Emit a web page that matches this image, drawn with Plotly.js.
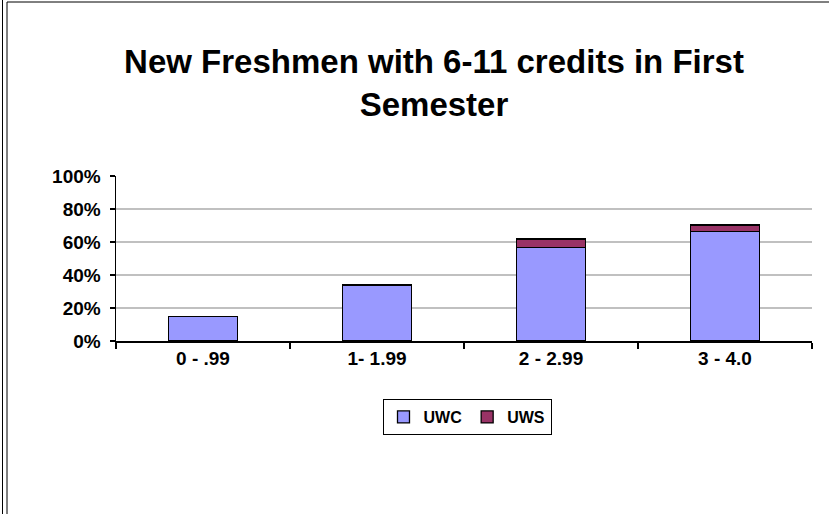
<!DOCTYPE html>
<html>
<head>
<meta charset="utf-8">
<script src="https://cdn.plot.ly/plotly-3.0.1.min.js"></script>
<style>html,body{margin:0;padding:0;background:#fff;}#chart{width:829px;height:514px;}</style>
</head>
<body>
<div id="chart"></div>
<script>
const categories = ["0 - .99", "1- 1.99", "2 - 2.99", "3 - 4.0"];
const uwc = [0.15, 0.34, 0.565, 0.662];
const uws = [null, null, 0.053, 0.041];
const yTickVals = [0, 0.2, 0.4, 0.6, 0.8, 1.0];
const yTickText = ["0%", "20%", "40%", "60%", "80%", "100%"];

const L = 116, R = 812, T = 176, B = 341;
function px(x){ return (x - L) / (R - L); }
function py(y){ return (B - y) / (B - T); }

const traces = [
  {type: 'bar', name: 'UWC', x: categories, y: uwc,
   marker: {color: '#9999ff', line: {color: '#000', width: 1.3}}},
  {type: 'bar', name: 'UWS', x: categories, y: uws,
   marker: {color: '#993366', line: {color: '#000', width: 1.3}}}
];

const layout = {
  width: 829, height: 514,
  paper_bgcolor: '#fff', plot_bgcolor: '#fff',
  margin: {l: L, r: 829 - R, t: T, b: 514 - B, pad: 0},
  barmode: 'stack', bargap: 0.6,
  font: {family: 'Liberation Sans, Arial, sans-serif', color: '#000'},
  title: {text: 'New Freshmen with 6-11 credits in First<br>Semester',
          font: {size: 33, family: 'Liberation Sans, Arial, sans-serif', weight: 'bold'},
          x: 434/829, xanchor: 'center', y: 1 - 73/514, yanchor: 'middle', yref: 'container'},
  xaxis: {type: 'category', showline: true, linecolor: '#000', linewidth: 1.5,
          ticks: 'outside', ticklen: 6, tickcolor: '#000', tickwidth: 1.5,
          tickson: 'boundaries', showgrid: false,
          tickfont: {size: 19, weight: 'bold'}},
  yaxis: {range: [0, 1.0], tickvals: yTickVals, ticktext: yTickText,
          showline: true, linecolor: '#000', linewidth: 1.5,
          ticks: 'outside', ticklen: 5, tickcolor: '#000', tickwidth: 1.5,
          ticklabelstandoff: 5,
          showgrid: true, gridcolor: '#c0c0c0', gridwidth: 1.3,
          zeroline: false, tickfont: {size: 19, weight: 'bold'}},
  showlegend: true,
  legend: {orientation: 'h', x: px(467), xanchor: 'center', y: py(399), yanchor: 'top',
           bordercolor: '#000', borderwidth: 1, bgcolor: '#fff',
           font: {size: 16, weight: 'bold'}, traceorder: 'normal',
           itemwidth: 30},
  shapes: [
    {type: 'line', xref: 'paper', yref: 'paper', x0: px(2.5), x1: px(2.5), y0: py(0), y1: py(514), line: {color: '#000', width: 1}},
    {type: 'line', xref: 'paper', yref: 'paper', x0: px(7), x1: px(7), y0: py(2), y1: py(514), line: {color: '#000', width: 1}},
    {type: 'line', xref: 'paper', yref: 'paper', x0: px(7), x1: px(829), y0: py(2), y1: py(2), line: {color: '#000', width: 1}}
  ]
};

Plotly.newPlot('chart', traces, layout, {displayModeBar: false, staticPlot: true});
</script>
</body>
</html>
